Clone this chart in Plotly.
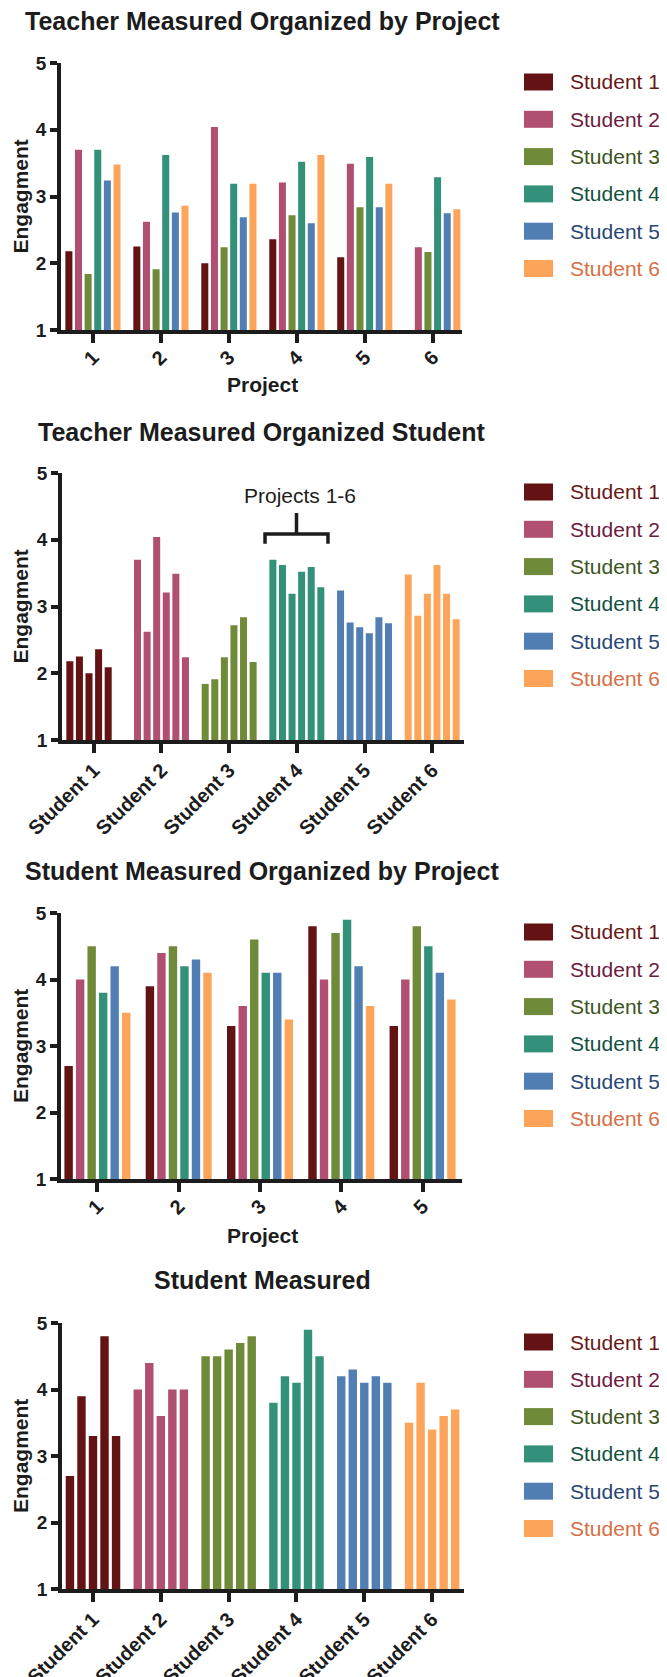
import plotly.graph_objects as go

# ---------------- data ----------------
students = ["Student 1", "Student 2", "Student 3", "Student 4", "Student 5", "Student 6"]
projects_teacher = ["1", "2", "3", "4", "5", "6"]
projects_student = ["1", "2", "3", "4", "5"]

# Teacher measured engagement, per student across projects 1-6
teacher_s1 = [2.18, 2.25, 2.00, 2.36, 2.09, None]
teacher_s2 = [3.70, 2.62, 4.04, 3.21, 3.49, 2.24]
teacher_s3 = [1.84, 1.91, 2.24, 2.72, 2.84, 2.17]
teacher_s4 = [3.70, 3.62, 3.19, 3.52, 3.59, 3.29]
teacher_s5 = [3.24, 2.76, 2.69, 2.60, 2.84, 2.75]
teacher_s6 = [3.48, 2.86, 3.19, 3.62, 3.19, 2.81]

# Student measured engagement, per student across projects 1-5
student_s1 = [2.7, 3.9, 3.3, 4.8, 3.3]
student_s2 = [4.0, 4.4, 3.6, 4.0, 4.0]
student_s3 = [4.5, 4.5, 4.6, 4.7, 4.8]
student_s4 = [3.8, 4.2, 4.1, 4.9, 4.5]
student_s5 = [4.2, 4.3, 4.1, 4.2, 4.1]
student_s6 = [3.5, 4.1, 3.4, 3.6, 3.7]

teacher_vals = [teacher_s1, teacher_s2, teacher_s3, teacher_s4, teacher_s5, teacher_s6]
student_vals = [student_s1, student_s2, student_s3, student_s4, student_s5, student_s6]

titles = ["Teacher Measured Organized by Project",
          "Teacher Measured Organized Student",
          "Student Measured Organized by Project",
          "Student Measured"]
y_title = "Engagment"
x_title = "Project"
bracket_label = "Projects 1-6"

# ---------------- styles ----------------
bar_colors = ["#631313", "#b14f73", "#6f8a39", "#339179", "#527fb3", "#fca55a"]
text_colors = ["#6a1717", "#6e1a3e", "#3b5420", "#12513e", "#284673", "#d66f45"]
AX = "#1c1c1c"
FONT = "Liberation Sans, Arial, sans-serif"
W, H = 667, 1677

def py(px):
    return 1 - px / H

def pxx(px):
    return px / W

# panel geometry (figure pixels): y=5 top, y=1 bottom, left, right
panels = [
    dict(top=55, bot=322, left=53, right=454, xr=[-0.47, 5.43], standoff=-5),
    dict(top=465, bot=732, left=54, right=456, xr=[-0.47, 5.47], standoff=-2),
    dict(top=905, bot=1171, left=53, right=454, xr=[-0.448, 4.485], standoff=-5),
    dict(top=1315, bot=1581, left=54, right=456, xr=[-0.457, 5.47], standoff=-2),
]

fig = go.Figure()

# Panel 1: teacher, grouped by project
for i, s in enumerate(students):
    fig.add_trace(go.Bar(x=projects_teacher, y=teacher_vals[i], name=s,
                         marker=dict(color=bar_colors[i], line=dict(width=0)),
                         xaxis="x", yaxis="y", showlegend=False))
# Panel 2: teacher, grouped by student
for j, p in enumerate(projects_teacher):
    fig.add_trace(go.Bar(x=students, y=[teacher_vals[i][j] for i in range(6)],
                         name="Project " + p,
                         marker=dict(color=bar_colors, line=dict(width=0)),
                         xaxis="x2", yaxis="y2", showlegend=False))
# Panel 3: student, grouped by project
for i, s in enumerate(students):
    fig.add_trace(go.Bar(x=projects_student, y=student_vals[i], name=s,
                         marker=dict(color=bar_colors[i], line=dict(width=0)),
                         xaxis="x3", yaxis="y3", showlegend=False))
# Panel 4: student, grouped by student
for j, p in enumerate(projects_student):
    fig.add_trace(go.Bar(x=students, y=[student_vals[i][j] for i in range(6)],
                         name="Project " + p,
                         marker=dict(color=bar_colors, line=dict(width=0)),
                         xaxis="x4", yaxis="y4", showlegend=False))

layout = dict(
    template="none",
    width=W, height=H,
    margin=dict(l=0, r=0, t=0, b=0, pad=0, autoexpand=False),
    paper_bgcolor="white", plot_bgcolor="white",
    barmode="group", bargap=0.15, bargroupgap=0.27,
    font=dict(family=FONT, color=AX),
    showlegend=False,
)

annotations = []
shapes = []
for k, pn in enumerate(panels):
    sx = "" if k == 0 else str(k + 1)
    layout["xaxis" + sx] = dict(
        domain=[pxx(pn["left"]), pxx(pn["right"])],
        anchor="y" + sx, type="category", range=pn["xr"],
        showline=True, linewidth=3.5, linecolor=AX, mirror=False,
        ticks="outside", ticklen=9, tickwidth=3.5, tickcolor=AX,
        tickangle=-45, ticklabelstandoff=pn["standoff"],
        showgrid=False, zeroline=False, automargin=False,
        tickfont=dict(family=FONT, size=20, color=AX, weight="bold"),
        fixedrange=True,
    )
    layout["yaxis" + sx] = dict(
        domain=[py(pn["bot"]), py(pn["top"])],
        anchor="x" + sx, range=[1, 5], dtick=1, tick0=1,
        showline=True, linewidth=3.5, linecolor=AX, mirror=False,
        ticks="outside", ticklen=7, tickwidth=3.5, tickcolor=AX,
        showgrid=False, zeroline=False, automargin=False,
        tickfont=dict(family=FONT, size=19, color=AX, weight="bold"),
        fixedrange=True,
    )
    # y axis title
    annotations.append(dict(
        text="<b>" + y_title + "</b>", xref="paper", yref="paper",
        x=pxx(12), y=py((pn["top"] + pn["bot"]) / 2), textangle=-90,
        showarrow=False, xanchor="center", yanchor="middle",
        font=dict(family=FONT, size=21, color=AX)))
    # legend (swatches + coloured labels)
    for i, s in enumerate(students):
        cy = pn["top"] + 19 + 37.3 * i
        shapes.append(dict(type="rect", xref="paper", yref="paper",
                           x0=pxx(516), x1=pxx(545), y0=py(cy - 8.5), y1=py(cy + 8.5),
                           fillcolor=bar_colors[i], line=dict(width=0)))
        annotations.append(dict(
            text=s, xref="paper", yref="paper", x=pxx(560), y=py(cy),
            showarrow=False, xanchor="left", yanchor="middle",
            font=dict(family=FONT, size=21, color=text_colors[i])))

# chart titles
for t, cy in zip(titles, [13, 424, 863, 1272]):
    annotations.append(dict(
        text="<b>" + t + "</b>", xref="paper", yref="paper", x=pxx(254), y=py(cy),
        showarrow=False, xanchor="center", yanchor="middle",
        font=dict(family=FONT, size=25, color=AX)))

# x axis titles for project panels
for cy in [376, 1227]:
    annotations.append(dict(
        text="<b>" + x_title + "</b>", xref="paper", yref="paper", x=pxx(254), y=py(cy),
        showarrow=False, xanchor="center", yanchor="middle",
        font=dict(family=FONT, size=21, color=AX)))

# bracket annotation on panel 2
annotations.append(dict(
    text=bracket_label, xref="x2", yref="y2", x=3.05, y=4.66,
    showarrow=False, xanchor="center", yanchor="middle",
    font=dict(family=FONT, size=21, color=AX)))
shapes.append(dict(type="path", xref="x2", yref="y2",
                   path="M 2.53,3.94 L 2.53,4.086 L 3.46,4.086 L 3.46,3.94 M 2.995,4.086 L 2.995,4.40",
                   line=dict(color=AX, width=3.5)))

layout["annotations"] = annotations
layout["shapes"] = shapes
fig.update_layout(**layout)

fig.write_html("out.html")
